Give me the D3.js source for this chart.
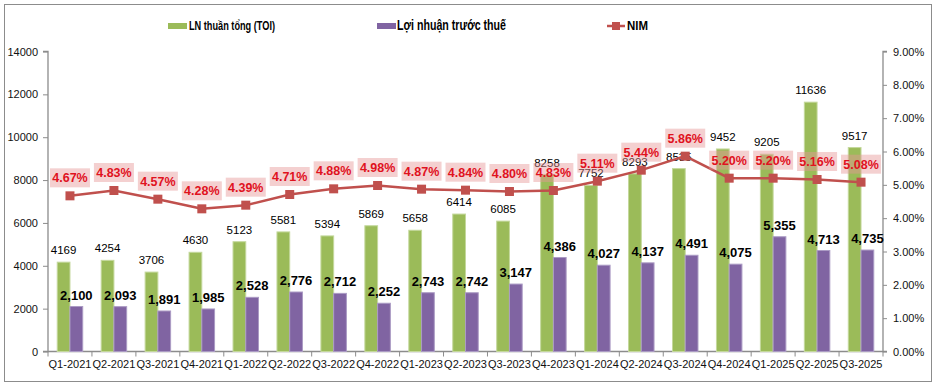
<!DOCTYPE html>
<html>
<head>
<meta charset="utf-8">
<script src="https://cdn.jsdelivr.net/npm/d3@7"></script>
<style>
  body { margin: 0; background: #fff; }
  text { font-family: "Liberation Sans", Arial, sans-serif; }
</style>
</head>
<body>
<div id="chart"></div>
<script>
// quarters on the x axis
const quarters = [
  'Q1-2021', 'Q2-2021', 'Q3-2021', 'Q4-2021',
  'Q1-2022', 'Q2-2022', 'Q3-2022', 'Q4-2022',
  'Q1-2023', 'Q2-2023', 'Q3-2023', 'Q4-2023',
  'Q1-2024', 'Q2-2024', 'Q3-2024', 'Q4-2024',
  'Q1-2025', 'Q2-2025', 'Q3-2025'
];
// LN thuần tổng (TOI)
const toi = [4169, 4254, 3706, 4630, 5123, 5581, 5394, 5869, 5658, 6414, 6085, 8258, 7752, 8293, 8535, 9452, 9205, 11636, 9517];
// Lợi nhuận trước thuế
const pbt = [2100, 2093, 1891, 1985, 2528, 2776, 2712, 2252, 2743, 2742, 3147, 4386, 4027, 4137, 4491, 4075, 5355, 4713, 4735];
// NIM (%)
const nim = [4.67, 4.83, 4.57, 4.28, 4.39, 4.71, 4.88, 4.98, 4.87, 4.84, 4.80, 4.83, 5.11, 5.44, 5.86, 5.20, 5.20, 5.16, 5.08];

const leftTicks = [0, 2000, 4000, 6000, 8000, 10000, 12000, 14000];
const rightTicks = [0, 1, 2, 3, 4, 5, 6, 7, 8, 9];

const W = 938, H = 389;
const margin = { top: 51.5, right: 55, bottom: 37.5, left: 48 };

const svg = d3.select('#chart').append('svg')
  .attr('width', W)
  .attr('height', H);

// outer frame
svg.append('rect')
  .attr('x', 4.5).attr('y', 4.5)
  .attr('width', 927).attr('height', 377)
  .attr('fill', '#fff')
  .attr('stroke', '#8c8c8c');

const x0 = margin.left, x1 = W - margin.right;
const yBottom = H - margin.bottom, yTop = margin.top;

const x = d3.scaleBand().domain(quarters).range([x0, x1]).paddingInner(0.42).paddingOuter(0.21);
const xs = d3.scaleBand().domain(['toi', 'pbt']).range([0, x.bandwidth()]);
const y = d3.scaleLinear().domain([0, 14000]).range([yBottom, yTop]);
const yR = d3.scaleLinear().domain([0, 9]).range([yBottom, yTop]);

// axes
const axisColor = '#8c8c8c';
const gl = svg.append('g').attr('transform', `translate(${x0},0)`)
  .call(d3.axisLeft(y).tickValues(leftTicks).tickSize(5).tickPadding(5).tickFormat(d3.format('d')));
const gr = svg.append('g').attr('transform', `translate(${x1},0)`)
  .call(d3.axisRight(yR).tickValues(rightTicks).tickSize(4).tickPadding(6).tickFormat(d => d.toFixed(2) + '%'));
const gx = svg.append('g').attr('transform', `translate(0,${yBottom})`)
  .call(d3.axisBottom(x).tickSize(0).tickPadding(9));

// ticks between categories
const step = x.step();
gx.selectAll('.sep')
  .data(d3.range(quarters.length + 1))
  .enter().append('line')
  .attr('x1', i => x0 + i * step).attr('x2', i => x0 + i * step)
  .attr('y1', 0).attr('y2', 5)
  .attr('stroke', axisColor);

[gl, gr, gx].forEach(g => {
  g.select('.domain').attr('stroke', axisColor).attr('stroke-width', 1.3);
  g.selectAll('.tick line').attr('stroke', axisColor);
  g.selectAll('.tick text')
    .attr('font-family', '"Liberation Sans", Arial, sans-serif')
    .attr('font-size', 11)
    .attr('fill', '#111');
});
gl.select('.domain').attr('d', `M-5,${yTop}H0V${yBottom}H-5`);
gr.select('.domain').attr('d', `M4,${yTop}H0V${yBottom}H4`);
gx.select('.domain').attr('d', `M${x0},0H${x1}`);

// bars
const barG = svg.append('g');
barG.selectAll('.toi')
  .data(quarters)
  .enter().append('rect')
  .attr('class', 'toi')
  .attr('x', (d) => x(d) + xs('toi'))
  .attr('y', (d, i) => y(toi[i]))
  .attr('width', xs.bandwidth())
  .attr('height', (d, i) => yBottom - y(toi[i]))
  .attr('fill', '#9bbb59')
  .attr('stroke', '#c4d89c')
  .attr('stroke-width', 1);

barG.selectAll('.pbt')
  .data(quarters)
  .enter().append('rect')
  .attr('class', 'pbt')
  .attr('x', (d) => x(d) + xs('pbt'))
  .attr('y', (d, i) => y(pbt[i]))
  .attr('width', xs.bandwidth())
  .attr('height', (d, i) => yBottom - y(pbt[i]))
  .attr('fill', '#8064a2')
  .attr('stroke', '#ab9bc4')
  .attr('stroke-width', 1);

// bar labels
barG.selectAll('.toiLbl')
  .data(quarters)
  .enter().append('text')
  .attr('x', (d) => x(d) + xs('toi') + xs.bandwidth() / 2)
  .attr('y', (d, i) => y(toi[i]) - 8)
  .attr('text-anchor', 'middle')
  .attr('font-size', 11.5)
  .attr('fill', '#000')
  .text((d, i) => toi[i]);

barG.selectAll('.pbtLbl')
  .data(quarters)
  .enter().append('text')
  .attr('x', (d) => x(d) + xs('pbt') + xs.bandwidth() / 2)
  .attr('y', (d, i) => y(pbt[i]) - 7)
  .attr('text-anchor', 'middle')
  .attr('font-size', 13)
  .attr('font-weight', 'bold')
  .attr('fill', '#000')
  .text((d, i) => d3.format(',')(pbt[i]));

// NIM line
const cx = (d) => x(d) + x.bandwidth() / 2;
const line = d3.line()
  .x((d, i) => cx(quarters[i]))
  .y((d) => yR(d));

svg.append('path')
  .datum(nim)
  .attr('fill', 'none')
  .attr('stroke', '#c0504d')
  .attr('stroke-width', 2.5)
  .attr('d', line);

svg.selectAll('.mk')
  .data(nim)
  .enter().append('rect')
  .attr('x', (d, i) => cx(quarters[i]) - 4.5)
  .attr('y', (d) => yR(d) - 4.5)
  .attr('width', 9).attr('height', 9)
  .attr('fill', '#c0504d');

// NIM labels with pink boxes
const nimLbl = svg.selectAll('.nimLbl')
  .data(nim)
  .enter().append('g')
  .attr('transform', (d, i) => `translate(${cx(quarters[i])},${yR(d) - 18})`);

nimLbl.append('rect')
  .attr('x', -20).attr('y', -9.5)
  .attr('width', 40).attr('height', 19)
  .attr('fill', 'rgb(230,150,150)')
  .attr('fill-opacity', 0.45);

nimLbl.append('text')
  .attr('text-anchor', 'middle')
  .attr('dy', '0.36em')
  .attr('font-size', 12.5)
  .attr('font-weight', 'bold')
  .attr('fill', '#e0121e')
  .text((d) => d.toFixed(2) + '%');

// legend
const legend = svg.append('g');
legend.append('rect').attr('x', 168).attr('y', 23).attr('width', 19).attr('height', 6).attr('fill', '#9bbb59');
legend.append('text').attr('x', 189).attr('y', 30)
  .attr('font-size', 12).attr('font-weight', 'bold')
  .attr('textLength', 86).attr('lengthAdjust', 'spacingAndGlyphs')
  .text('LN thuần tổng (TOI)');

legend.append('rect').attr('x', 377).attr('y', 23).attr('width', 19).attr('height', 6).attr('fill', '#8064a2');
legend.append('text').attr('x', 397).attr('y', 30)
  .attr('font-size', 15).attr('font-weight', 'bold')
  .attr('textLength', 109).attr('lengthAdjust', 'spacingAndGlyphs')
  .text('Lợi nhuận trước thuế');

legend.append('line').attr('x1', 607).attr('x2', 625).attr('y1', 26).attr('y2', 26)
  .attr('stroke', '#c0504d').attr('stroke-width', 2.5);
legend.append('rect').attr('x', 612).attr('y', 22).attr('width', 8).attr('height', 8).attr('fill', '#c0504d');
legend.append('text').attr('x', 627).attr('y', 30)
  .attr('font-size', 12).attr('font-weight', 'bold')
  .attr('textLength', 21).attr('lengthAdjust', 'spacingAndGlyphs')
  .text('NIM');
</script>
</body>
</html>
